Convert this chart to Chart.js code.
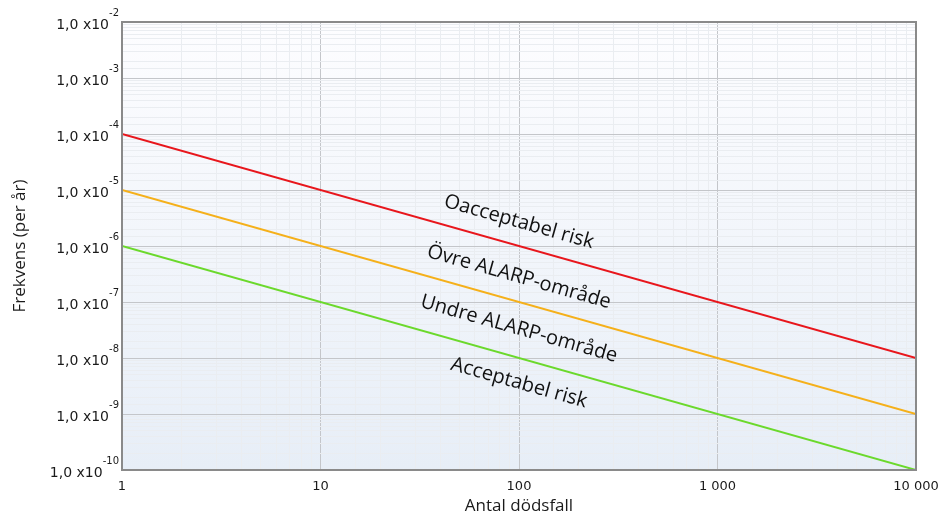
<!DOCTYPE html>
<html>
<head>
<meta charset="utf-8">
<script src="https://cdn.jsdelivr.net/npm/chart.js@4"></script>
<style>
  html, body { margin: 0; padding: 0; background: #fff; }
  #wrap { width: 945px; height: 516px; }
</style>
</head>
<body>
<div id="wrap"><canvas id="plot"></canvas></div>
<script>
// antal dödsfall (x) och frekvens per år (y)
const antal = [1, 10000];
const oacceptabel = [1e-4, 1e-8];
const ovreAlarp = [1e-5, 1e-9];
const undreAlarp = [1e-6, 1e-10];
const serieNamn = ['Oacceptabel', 'Övre ALARP', 'Undre ALARP'];
const omradesText = ['Oacceptabel risk', 'Övre ALARP-område', 'Undre ALARP-område', 'Acceptabel risk'];
const xTickText = { 1: '1', 10: '10', 100: '100', 1000: '1 000', 10000: '10 000' };
const yExponenter = [-2, -3, -4, -5, -6, -7, -8, -9, -10];

const plot = document.getElementById('plot');

function punkter(ys) {
    return antal.map((x, i) => ({ x: x, y: ys[i] }));
}

function isMajor(v) {
    const l = Math.log10(v);
    return Math.abs(l - Math.round(l)) < 1e-9;
}

const bakgrund = {
    id: 'bakgrund',
    beforeDraw(chart) {
        const a = chart.chartArea, c = chart.ctx;
        const g = c.createLinearGradient(0, a.top, 0, a.bottom);
        g.addColorStop(0, '#fdfdff');
        g.addColorStop(1, '#e7eef7');
        c.save();
        c.fillStyle = g;
        c.fillRect(a.left, a.top, a.right - a.left, a.bottom - a.top);
        c.restore();
    },
    afterDraw(chart) {
        const a = chart.chartArea, c = chart.ctx;
        const ys = chart.scales.y, xs = chart.scales.x;
        c.save();
        // ram
        c.strokeStyle = '#8a8a8a';
        c.lineWidth = 2;
        c.strokeRect(a.left, a.top, a.right - a.left, a.bottom - a.top);

        // y-etiketter med exponent
        c.fillStyle = '#1a1a1a';
        c.textBaseline = 'middle';
        yExponenter.forEach(e => {
            const py = ys.getPixelForValue(Math.pow(10, e));
            c.font = '10px "DejaVu Sans"';
            const ex = String(e);
            const ew = c.measureText(ex).width;
            c.textAlign = 'right';
            c.fillText(ex, 119, py - 9);
            c.font = '14px "DejaVu Sans"';
            c.fillText('1,0 x10', 119 - ew, py + 3);
        });

        // text längs linjerna
        const x0 = xs.getPixelForValue(1), x1 = xs.getPixelForValue(10000);
        const y0 = ys.getPixelForValue(1e-4), y1 = ys.getPixelForValue(1e-8);
        const vinkel = Math.atan2(y1 - y0, x1 - x0);
        const bas = [oacceptabel, ovreAlarp, undreAlarp, undreAlarp];
        const forskj = [-24, -25, -29, 25];
        c.font = '20px "Open Sans"';
        c.fillStyle = '#111';
        c.textAlign = 'center';
        c.textBaseline = 'middle';
        omradesText.forEach((t, i) => {
            const yv = bas[i][0] * Math.pow(bas[i][1] / bas[i][0], 0.5);
            const px = xs.getPixelForValue(100);
            const py = ys.getPixelForValue(yv) + forskj[i];
            c.save();
            c.translate(px, py);
            c.rotate(vinkel);
            c.fillText(t, 0, 0);
            c.restore();
        });
        c.restore();
    }
};

new Chart(plot, {
    type: 'line',
    data: {
        datasets: [
            { label: serieNamn[0], data: punkter(oacceptabel), borderColor: '#e8161c', borderWidth: 2, pointRadius: 0 },
            { label: serieNamn[1], data: punkter(ovreAlarp), borderColor: '#f5b01a', borderWidth: 2, pointRadius: 0 },
            { label: serieNamn[2], data: punkter(undreAlarp), borderColor: '#6bd92c', borderWidth: 2, pointRadius: 0 }
        ]
    },
    options: {
        responsive: true,
        maintainAspectRatio: false,
        animation: false,
        layout: { padding: { top: 22, right: 29, left: 0, bottom: 0 } },
        plugins: { legend: { display: false }, tooltip: { enabled: false } },
        scales: {
            x: {
                type: 'logarithmic',
                min: 1,
                max: 10000,
                afterFit: s => { s.height = 46; s.paddingRight = 0; s.paddingLeft = 0; },
                border: { display: false },
                grid: {
                    color: ctx => (ctx.tick && isMajor(ctx.tick.value)) ? '#c4c6ca' : '#eaedf1',
                    lineWidth: 1,
                    drawTicks: false
                },
                ticks: {
                    autoSkip: false,
                    maxRotation: 0,
                    padding: 9,
                    color: '#1a1a1a',
                    font: { family: 'DejaVu Sans', size: 13 },
                    callback: v => xTickText[v] || ''
                },
                title: {
                    display: true,
                    text: 'Antal dödsfall',
                    color: '#1a1a1a',
                    font: { family: 'Open Sans', size: 17 },
                    padding: { top: -5, bottom: 0 }
                }
            },
            y: {
                type: 'logarithmic',
                min: 1e-10,
                max: 1e-2,
                afterFit: s => { s.width = 122; },
                border: { display: false },
                grid: {
                    color: ctx => (ctx.tick && isMajor(ctx.tick.value)) ? '#c4c6ca' : '#eaedf1',
                    lineWidth: 1,
                    drawTicks: false
                },
                ticks: {
                    autoSkip: false,
                    color: 'rgba(0,0,0,0)',
                    callback: () => ''
                },
                title: {
                    display: true,
                    text: 'Frekvens (per år)',
                    color: '#1a1a1a',
                    font: { family: 'Open Sans', size: 17 },
                    padding: { top: 10, bottom: 0 }
                }
            }
        }
    },
    plugins: [bakgrund]
});
</script>
</body>
</html>
